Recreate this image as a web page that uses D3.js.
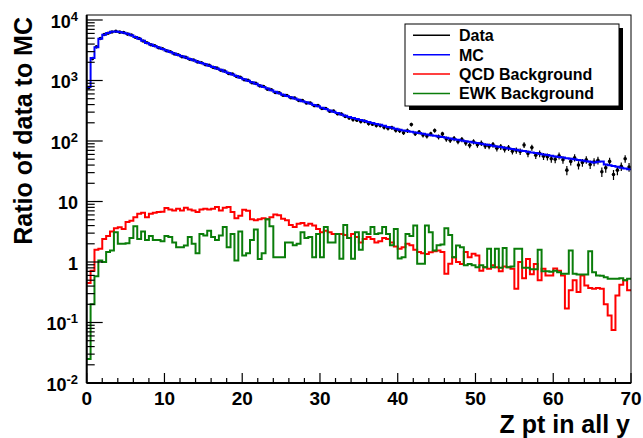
<!DOCTYPE html>
<html><head><meta charset="utf-8">
<script src="https://cdn.jsdelivr.net/npm/d3@7"></script>
<style>
body{margin:0;background:#fff}
svg{display:block}
text{font-family:"Liberation Sans",Arial,Helvetica,sans-serif;font-weight:bold;fill:#000}
</style>
</head><body>
<svg id="c" width="643" height="438"></svg>
<script>
// ---------- data ----------
const binWidth = 0.5;            // Z pt bin width (GeV), 140 bins over 0-70
const xTicks = [0, 10, 20, 30, 40, 50, 60, 70];
const yDecades = [-2, -1, 0, 1, 2, 3, 4];
const legendLabels = ["Data", "MC", "QCD Background", "EWK Background"];
const xTitle = "Z pt in all y";
const yTitle = "Ratio of data to MC";

const mc = [
  780, 2350, 3550, 4900, 5700, 6100, 6400, 6450, 6350, 6150,
  5900, 5600, 5250, 4900, 4550, 4170, 3940, 3720, 3510, 3310,
  3130, 2950, 2790, 2630, 2510, 2390, 2270, 2160, 2050, 1950,
  1850, 1760, 1675, 1585, 1500, 1410, 1330, 1260, 1185, 1115,
  1050, 990, 935, 880, 830, 780, 735, 690, 650, 615,
  580, 555, 530, 505, 480, 455, 435, 415, 395, 375,
  355, 337, 320, 305, 290, 275, 262, 249, 239, 230,
  222, 214, 206, 199, 191, 185, 178, 171, 165, 159,
  153, 149, 146, 142, 138, 135, 132, 128, 125, 122,
  119, 116, 113, 110, 107, 105, 102, 99.5, 97, 94.6,
  92.3, 90, 87.7, 85.5, 83.4, 81.3, 79.3, 77.3, 75.3, 73.5,
  71.6, 69.8, 68.1, 66.4, 64.7, 63.1, 61.5, 60, 58.5, 57,
  55.7, 54.5, 53.2, 52, 50.8, 49.7, 48.5, 47.4, 46.3, 45.3,
  44.3, 45.5, 46, 40.9, 39.7, 38.5, 37.4, 36.3, 35.2, 34.2
];
const dataCounts = [
  760, 2300, 3600, 4950, 5750, 6050, 6350, 6500, 6300, 6200,
  5850, 5650, 5200, 4950, 4500, 4200, 3900, 3750, 3480, 3350,
  3100, 2980, 2760, 2660, 2480, 2410, 2250, 2180, 2030, 1970,
  1830, 1780, 1650, 1600, 1480, 1430, 1310, 1280, 1170, 1130,
  1030, 1005, 920, 895, 815, 795, 720, 705, 635, 625,
  570, 565, 520, 515, 470, 465, 425, 425, 385, 385,
  345, 345, 310, 312, 282, 280, 255, 240, 226, 220,
  210, 212, 194, 190, 180, 180, 168, 162, 166, 150,
  148, 137, 148, 187, 132, 140, 126, 121, 131, 149,
  117, 131, 108, 103, 110, 98, 106, 93, 85, 97,
  87, 92, 83, 82, 87, 76, 80, 73, 77, 68,
  70, 67, 86, 62, 78, 58, 62, 56, 55, 51,
  50, 57, 49, 33, 46, 53, 40, 44, 49, 41,
  45, 48, 31, 36, 46, 28, 33, 38, 51, 37
];
const qcd = [
  0.45, 0.72, 1.6, 1.65, 2.4, 2.7, 3.2, 3.6, 3.75, 3.5,
  4.6, 4.8, 5.5, 6.25, 6.5, 5.5, 6.25, 6.5, 6.7, 6.8,
  7.8, 7.4, 7.1, 7.6, 7.1, 7.9, 7.4, 7.1, 6.7, 7.4,
  7.6, 7.4, 7.6, 8.1, 7.1, 7.9, 8.1, 6.7, 5.3, 5.8,
  7.3, 7.0, 5.1, 4.9, 5.1, 5.3, 5.1, 5.5, 6.1, 5.9,
  5.2, 4.9, 4.1, 3.8, 4.3, 4.4, 4.0, 4.3, 4.0, 3.5,
  3.1, 3.3, 3.1, 2.9, 2.9, 2.9, 2.8, 2.5, 2.9, 2.6,
  2.1, 2.4, 2.6, 2.4, 2.1, 2.2, 2.5, 2.4, 2.1, 1.8,
  1.66, 1.75, 2.0, 1.9, 1.6, 1.46, 1.4, 1.35, 1.45, 1.5,
  1.55, 1.46, 0.64, 0.94, 1.2, 1.0, 0.93, 1.46, 1.2, 1.37,
  1.28, 0.72, 0.82, 0.77, 0.88, 0.82, 0.7, 0.84, 0.82, 0.77,
  0.36, 1.0, 0.54, 1.12, 0.63, 0.93, 0.5, 0.77, 0.6, 0.6,
  0.78, 0.72, 0.6, 0.17, 0.34, 0.5, 0.32, 0.6, 0.41, 0.37,
  0.36, 0.37, 0.36, 0.2, 0.13, 0.075, 0.28, 0.42, 0.5, 0.34
];
const ewk = [
  0.025, 0.2, 0.58, 1.06, 1.0, 1.46, 1.55, 3.1, 2.0, 2.0,
  2.05, 2.5, 3.9, 2.4, 3.2, 2.3, 2.7, 2.3, 2.3, 2.2,
  2.7, 2.6, 2.1, 1.76, 1.76, 1.88, 2.6, 2.0, 1.4, 2.9,
  2.75, 3.3, 2.6, 2.3, 2.75, 3.8, 1.76, 2.9, 1.06, 3.2,
  1.28, 1.4, 2.3, 3.45, 1.12, 1.4, 5.1, 3.9, 1.2, 1.2,
  1.2, 2.1, 2.1, 1.9, 2.0, 3.1, 2.5, 2.6, 1.2, 2.9,
  1.2, 3.8, 2.1, 2.1, 2.9, 1.13, 4.1, 2.5, 1.13, 3.1,
  1.6, 3.1, 2.9, 3.8, 2.9, 3.0, 3.8, 2.9, 1.9, 3.5,
  1.14, 1.2, 2.9, 2.7, 4.0, 0.94, 0.94, 4.0, 3.1, 1.55,
  1.9, 1.95, 3.6, 2.8, 1.2, 1.87, 1.75, 0.88, 0.93, 0.88,
  0.82, 0.88, 0.82, 1.65, 0.82, 1.65, 0.8, 1.7, 0.82, 0.84,
  1.65, 1.65, 0.8, 0.8, 0.76, 0.76, 1.6, 0.7, 0.7, 0.69,
  0.72, 0.68, 0.64, 0.64, 1.55, 0.64, 0.62, 0.62, 0.62, 1.5,
  0.68, 0.6, 0.59, 0.56, 0.53, 0.53, 0.53, 0.54, 0.5, 0.53
];

// ---------- layout ----------
const L = 86.7, R = 631, T = 15, B = 383;
const decadePx = 60.5;
const yMax = Math.pow(10, -2 + (B - T) / decadePx);
const colors = {data: "#000000", mc: "#0000ff", qcd: "#ff0000", ewk: "#0a7d0a"};

const svg = d3.select("#c");
const x = d3.scaleLinear().domain([0, 70]).range([L, R]);
const y = d3.scaleLog().domain([0.01, yMax]).range([B, T]);

svg.append("defs").append("clipPath").attr("id", "clip")
  .append("rect").attr("x", L).attr("y", T).attr("width", R - L).attr("height", B - T);

const plot = svg.append("g").attr("clip-path", "url(#clip)");

function stepPts(arr) {
  const pts = [];
  arr.forEach((v, i) => { pts.push([i * binWidth, v]); pts.push([(i + 1) * binWidth, v]); });
  return pts;
}
const line = d3.line().x(d => x(d[0])).y(d => y(Math.max(d[1], 0.005)));

// data points (drawn first, MC line over them)
const dg = plot.append("g");
dataCounts.forEach((v, i) => {
  const xc = x((i + 0.5) * binWidth);
  const e = Math.sqrt(v);
  dg.append("line").attr("x1", xc).attr("x2", xc)
    .attr("y1", y(v + e)).attr("y2", y(Math.max(v - e, 0.01)))
    .attr("stroke", colors.data).attr("stroke-width", 1.2);
  dg.append("circle").attr("cx", xc).attr("cy", y(v)).attr("r", 1.8).attr("fill", colors.data);
});

plot.append("path").attr("d", line(stepPts(mc))).attr("fill", "none")
  .attr("stroke", colors.mc).attr("stroke-width", 2);
plot.append("path").attr("d", line(stepPts(qcd))).attr("fill", "none")
  .attr("stroke", colors.qcd).attr("stroke-width", 2);
plot.append("path").attr("d", line(stepPts(ewk))).attr("fill", "none")
  .attr("stroke", colors.ewk).attr("stroke-width", 2);

// frame
svg.append("rect").attr("x", L).attr("y", T).attr("width", R - L).attr("height", B - T)
  .attr("fill", "none").attr("stroke", "#000").attr("stroke-width", 1);
svg.append("line").attr("x1", L).attr("x2", R).attr("y1", B).attr("y2", B).attr("stroke", "#000").attr("stroke-width", 2);
svg.append("line").attr("x1", L).attr("x2", L).attr("y1", T).attr("y2", B).attr("stroke", "#000").attr("stroke-width", 2);

// x ticks
const ax = svg.append("g");
for (let v = 0; v <= 70; v += 2) {
  const major = v % 10 === 0;
  ax.append("line").attr("x1", x(v)).attr("x2", x(v)).attr("y1", B).attr("y2", B - (major ? 10 : 5))
    .attr("stroke", "#000").attr("stroke-width", 1.2);
}
xTicks.forEach(v => {
  ax.append("text").attr("x", x(v)).attr("y", 405).attr("text-anchor", "middle")
    .attr("font-size", 19).text(v);
});

// y ticks
const ay = svg.append("g");
yDecades.forEach(d => {
  const v = Math.pow(10, d);
  ay.append("line").attr("x1", L).attr("x2", L + 16).attr("y1", y(v)).attr("y2", y(v))
    .attr("stroke", "#000").attr("stroke-width", 1.2);
  for (let m = 2; m <= 9; m++) {
    const mv = m * v;
    if (mv > yMax) break;
    ay.append("line").attr("x1", L).attr("x2", L + 8).attr("y1", y(mv)).attr("y2", y(mv))
      .attr("stroke", "#000").attr("stroke-width", 1.2);
  }
  const t = ay.append("text").attr("x", 78).attr("y", y(v) + 7.5).attr("text-anchor", "end").attr("font-size", 18);
  if (d === 0) t.text("1");
  else if (d === 1) t.text("10");
  else {
    t.append("tspan").text("10");
    t.append("tspan").attr("font-size", 13).attr("dy", -7).text(String(d));
  }
});

// axis titles
svg.append("text").attr("x", 630).attr("y", 433).attr("text-anchor", "end")
  .attr("font-size", 25).text(xTitle);
svg.append("text").attr("transform", "translate(32,17) rotate(-90)").attr("text-anchor", "end")
  .attr("font-size", 25).text(yTitle);

// legend
const lg = svg.append("g");
lg.append("rect").attr("x", 409).attr("y", 28).attr("width", 214).attr("height", 82).attr("fill", "#000");
lg.append("rect").attr("x", 405).attr("y", 24).attr("width", 214).attr("height", 82)
  .attr("fill", "#fff").attr("stroke", "#000").attr("stroke-width", 1);
const legColors = [colors.data, colors.mc, colors.qcd, colors.ewk];
legendLabels.forEach((lab, i) => {
  const yy = 35.3 + i * 19.4;
  lg.append("line").attr("x1", 413).attr("x2", 450).attr("y1", yy).attr("y2", yy)
    .attr("stroke", legColors[i]).attr("stroke-width", 1.5);
  lg.append("text").attr("x", 459).attr("y", yy + 5.8).attr("font-size", 16).text(lab);
});
</script>
</body></html>
